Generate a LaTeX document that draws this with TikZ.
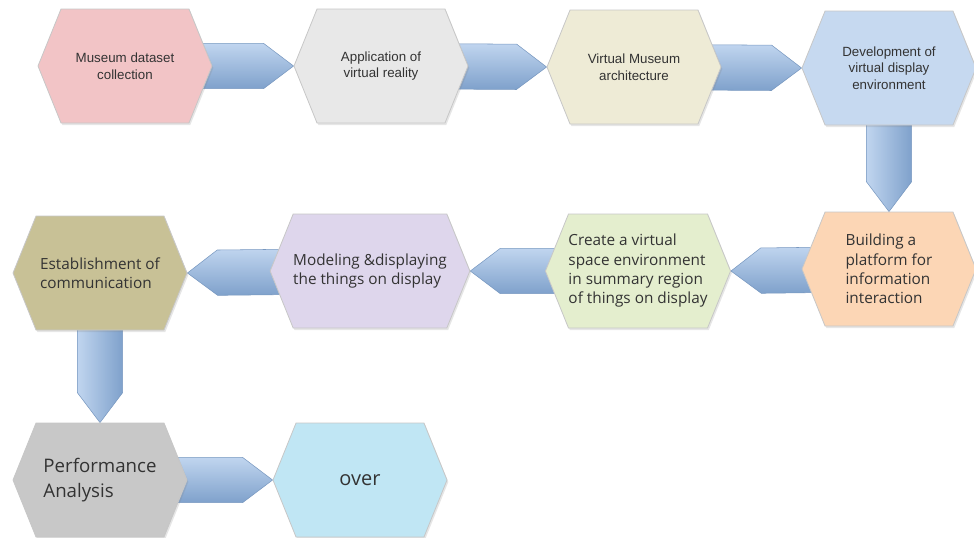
\documentclass[tikz,border=0pt]{standalone}
\usepackage{fontspec}
\setmainfont{Liberation Sans}
\newfontfamily\rowfont{Open Sans}
\usetikzlibrary{shapes.symbols,calc,backgrounds,shadows}
\definecolor{arrblue}{RGB}{141,179,226}
\definecolor{museumc}{RGB}{242,196,198}
\definecolor{appc}{RGB}{232,232,232}
\definecolor{archc}{RGB}{238,235,214}
\definecolor{devc}{RGB}{198,217,240}
\definecolor{buildc}{RGB}{252,214,181}
\definecolor{createc}{RGB}{228,238,206}
\definecolor{modelc}{RGB}{222,214,236}
\definecolor{estabc}{RGB}{200,193,150}
\definecolor{perfc}{RGB}{200,200,200}
\definecolor{overc}{RGB}{192,230,244}
\tikzset{
  blockarr/.style={to path={
    ($(\tikztostart)!17pt!90:(\tikztotarget)$) --
    ($(\tikztotarget)!22.5pt!(\tikztostart)!17pt!90:(\tikztotarget)$) --
    (\tikztotarget) --
    ($(\tikztotarget)!22.5pt!(\tikztostart)!17pt!-90:(\tikztotarget)$) --
    ($(\tikztostart)!17pt!-90:(\tikztotarget)$) -- cycle}}
}
\begin{document}
\begin{tikzpicture}[x=0.75pt,y=-0.75pt,
  hexa/.style={signal, signal to=east and west, signal pointer angle=136,
    minimum width=130.5pt, minimum height=85.5pt, inner sep=0pt,
    draw=black!22, line width=0.6pt, text=black!80,
    drop shadow={opacity=0.2,shadow xshift=1pt,shadow yshift=-1.5pt}},
  toptxt/.style={font=\fontsize{10}{12.5}\selectfont, align=center},
  lowtxt/.style={font=\rowfont\fontsize{11.5}{14.5}\selectfont, align=left},
  arr/.style={top color=arrblue!55!white, middle color=arrblue, bottom color=arrblue!90!black,
    draw=arrblue!85!black, line width=0.4pt},
  varr/.style={arr, shading angle=90}]
  \useasboundingbox (0,0) rectangle (974,537);
  \node[hexa, fill=museumc, toptxt] (museum) at (125,66) {Museum dataset\\collection};
  \node[hexa, fill=appc, toptxt] (app) at (381,66) {Application of\\virtual reality};
  \node[hexa, fill=archc, toptxt] (arch) at (634,67) {Virtual Museum\\architecture};
  \node[hexa, fill=devc, toptxt] (dev) at (889,68) {Development of\\virtual display\\environment};
  \node[hexa, fill=buildc, lowtxt] (build) at (889,269) {Building a\\platform for\\information\\interaction};
  \node[hexa, fill=createc, lowtxt] (create) at (638,271) {Create a virtual\\space environment\\in summary region\\of things on display};
  \node[hexa, fill=modelc, lowtxt] (model) at (370,271) {Modeling \&displaying\\the things on display};
  \node[hexa, fill=estabc, lowtxt] (estab) at (100,273) {Establishment of\\communication};
  \node[hexa, fill=perfc, lowtxt, font=\rowfont\fontsize{14}{19}\selectfont] (perf) at (100,480) {Performance\\Analysis};
  \node[hexa, fill=overc, lowtxt, font=\rowfont\fontsize{15}{18}\selectfont] (over) at (360,480) {over};
  \begin{scope}[on background layer]
  \draw[arr] (museum.center) to[blockarr] (app.west);
  \draw[arr] (app.center) to[blockarr] (arch.west);
  \draw[arr] (arch.center) to[blockarr] (dev.west);
  \draw[varr] (dev.center) to[blockarr] (build.north);
  \draw[arr] (build.center) to[blockarr] (create.east);
  \draw[arr] (create.center) to[blockarr] (model.east);
  \draw[arr] (model.center) to[blockarr] (estab.east);
  \draw[varr] (estab.center) to[blockarr] (perf.north);
  \draw[arr] (perf.center) to[blockarr] (over.west);
  \end{scope}
\end{tikzpicture}
\end{document}
